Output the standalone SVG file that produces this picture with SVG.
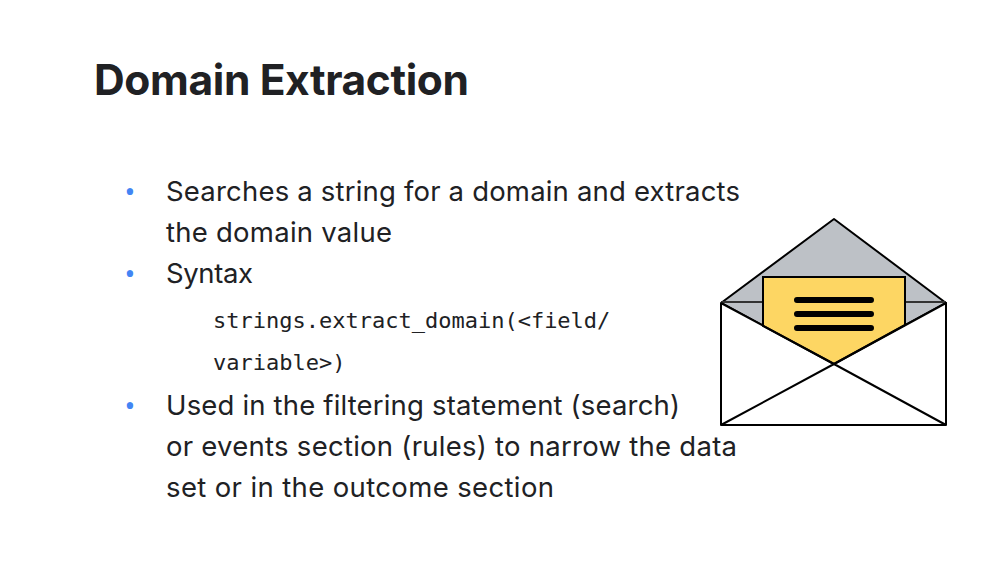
<svg xmlns="http://www.w3.org/2000/svg" width="999" height="562" viewBox="0 0 999 562">
<style>
.b{font-family:Inter,"Open Sans",sans-serif;font-size:27.5px;fill:#202124}
.m{font-family:"DejaVu Sans Mono","Liberation Mono",monospace;font-size:22px;fill:#202124}
.d{font-family:"Open Sans",sans-serif;font-size:30px;fill:#4285f4;text-anchor:middle}
.l{stroke:#000;stroke-width:2;fill:none;stroke-linejoin:round}
</style>
<rect width="999" height="562" fill="#fff"/>
<text x="94" y="95" font-family="Inter,'Open Sans',sans-serif" font-size="42.500" font-weight="700" fill="#202124" textLength="375">Domain Extraction</text>
<text class="d" x="130" y="202">•</text>
<text class="b" x="166" y="201" textLength="574">Searches a string for a domain and extracts</text>
<text class="b" x="166" y="242" textLength="226">the domain value</text>
<text class="d" x="130" y="284">•</text>
<text class="b" x="166" y="283" textLength="87">Syntax</text>
<text class="m" x="213" y="328">strings.extract_domain(&lt;field/</text>
<text class="m" x="213" y="370">variable&gt;)</text>
<text class="d" x="130" y="416">•</text>
<text class="b" x="166" y="415" textLength="514">Used in the filtering statement (search)</text>
<text class="b" x="166" y="456" textLength="571">or events section (rules) to narrow the data</text>
<text class="b" x="166" y="497" textLength="388">set or in the outcome section</text>
<g id="envelope">
<polygon points="721,303 834,219 946,303 834,364" fill="#bdc1c6" stroke="#000" stroke-width="2" stroke-linejoin="round"/>
<path d="M721,302H946" stroke="#333" stroke-width="2"/>
<polygon points="721,303 834,364 946,303 946,425 721,425" fill="#fff"/>
<polygon points="763,277 905,277 905,325 834,364 763,326" fill="#fdd663" stroke="#000" stroke-width="2"/>
<path class="l" d="M721,303V425H946V303L834,364L721,303M721,425L834,364L946,425"/>
<path d="M797,300H871M797,314H871M797,328H871" stroke="#000" stroke-width="6" stroke-linecap="round"/>
</g>
</svg>
